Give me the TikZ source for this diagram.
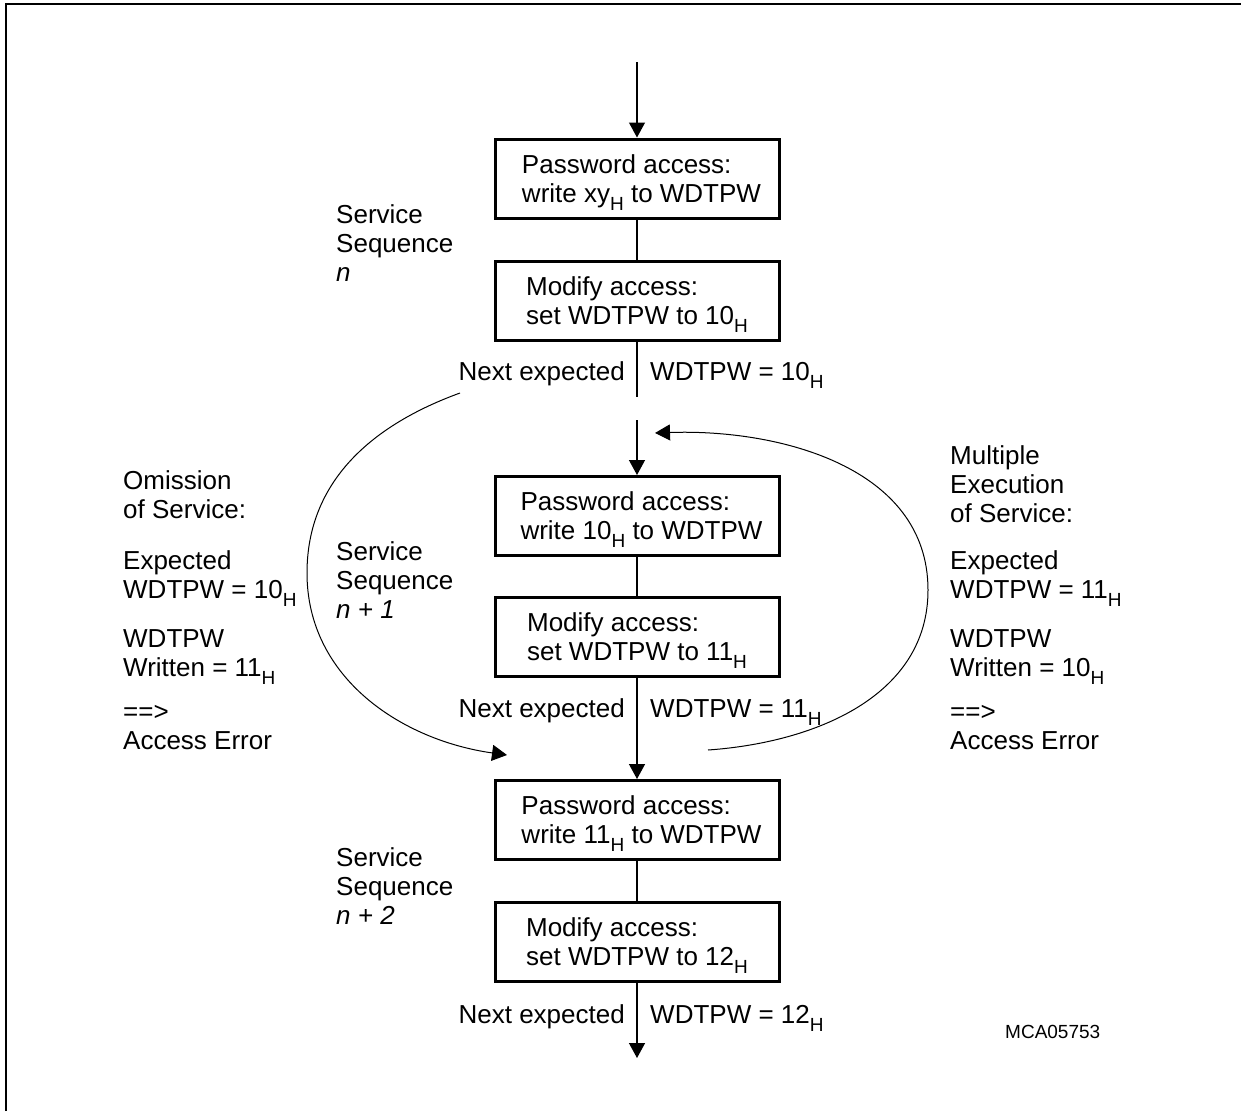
\documentclass[tikz,border=0pt]{standalone}
\usepackage{fontspec}
\setmainfont{Liberation Sans}
\usetikzlibrary{arrows.meta}
% lowered small "H" used for hexadecimal values
\newcommand{\subH}{\raisebox{-8pt}{\fontsize{19}{19}\selectfont H}}
% two-line box text with fixed line heights
\newcommand{\boxtext}[3]{\hspace*{#1}\rule{0pt}{27pt}#2\\\hspace*{#1}\smash{#3}\rule[-8.7pt]{0pt}{0pt}}
\begin{document}
\begin{tikzpicture}[x=1pt,y=1pt,
  every node/.style={font=\fontsize{26}{29}\selectfont},
  stepbox/.style={draw, line width=3pt, minimum width=284pt, minimum height=79pt,
    align=left, inner sep=0pt},
  lbl/.style={anchor=north west, inner sep=0pt, align=left},
  wire/.style={line width=1.3pt},
  flow/.style={line width=1.3pt, -{Triangle[length=15pt,width=16pt]}},
  loop/.style={line width=1pt, -{Triangle[length=15pt,width=16pt]}}]
\useasboundingbox (0,0) rectangle (1241,-1111);
% frame
\draw[line width=2.5pt] (6,-1111) |- (1241,-4);

% boxes
\node[stepbox] (b1) at (637,-178.5) {\boxtext{9pt}{Password access:}{write xy\subH{} to WDTPW}};
\node[stepbox] (b2) at (637,-301)   {\boxtext{0pt}{Modify access:}{set WDTPW to 10\subH}};
\node[stepbox] (b3) at (637,-516)   {\boxtext{9pt}{Password access:}{write 10\subH{} to WDTPW}};
\node[stepbox] (b4) at (637,-637)   {\boxtext{0pt}{Modify access:}{set WDTPW to 11\subH}};
\node[stepbox] (b5) at (637,-820)   {\boxtext{9pt}{Password access:}{write 11\subH{} to WDTPW}};
\node[stepbox] (b6) at (637,-942)   {\boxtext{0pt}{Modify access:}{set WDTPW to 12\subH}};

% free ends of the main flow
\coordinate (in) at (637,-62);
\coordinate (e1) at (637,-397);
\coordinate (s2) at (637,-420);
\coordinate (out) at (637,-1058);

\draw[flow] (in) -- (b1.north);
\draw[wire] (b1) -- (b2);
\draw[wire] (b2.south) -- (e1);
\draw[flow] (s2) -- (b3.north);
\draw[wire] (b3) -- (b4);
\draw[flow] (b4.south) -- (b5.north);
\draw[wire] (b5) -- (b6);
\draw[flow] (b6.south) -- (out);

% "next expected" labels
\node[anchor=base east, inner sep=0pt] (ne1) at (625,-380) {Next expected};
\node[anchor=base west, inner sep=0pt] (nv1) at (650,-380) {WDTPW = 10\subH};
\node[anchor=base east, inner sep=0pt] (ne2) at (625,-717) {Next expected};
\node[anchor=base west, inner sep=0pt] (nv2) at (650,-717) {WDTPW = 11\subH};
\node[anchor=base east, inner sep=0pt] (ne3) at (625,-1023) {Next expected};
\node[anchor=base west, inner sep=0pt] (nv3) at (650,-1023) {WDTPW = 12\subH};

% sequence labels
\node[lbl] (sq1) at (336,-203) {\strut Service\\Sequence\\\textit{n}};
\node[lbl] (sq2) at (336,-540) {\strut Service\\Sequence\\\textit{n + 1}};
\node[lbl] (sq3) at (336,-846) {\strut Service\\Sequence\\\textit{n + 2}};

% omission of service
\node[lbl] (om1) at (123,-469) {\strut Omission\\of Service:};
\node[lbl] (om2) at (123,-549) {\strut Expected\\WDTPW = 10\subH};
\node[lbl] (om3) at (123,-627) {\strut WDTPW\\Written = 11\subH};
\node[lbl] (om4) at (123,-700) {\strut ==>\\Access Error};

% multiple execution of service
\node[lbl] (me1) at (950,-444) {\strut Multiple\\Execution\\of Service:};
\node[lbl] (me2) at (950,-549) {\strut Expected\\WDTPW = 11\subH};
\node[lbl] (me3) at (950,-627) {\strut WDTPW\\Written = 10\subH};
\node[lbl] (me4) at (950,-700) {\strut ==>\\Access Error};

% loops
\coordinate (la) at (460,-393);
\coordinate (lm) at (307,-573);
\coordinate (lb) at (507,-755);
\draw[loop] (la) to[out=200,in=90] (lm) to[out=-90,in=172] (lb);

\coordinate (ra) at (708,-750);
\coordinate (rm) at (928,-590);
\coordinate (rb) at (655,-433);
\draw[loop] (ra) to[out=4,in=-90] (rm) to[out=90,in=2] (rb);

% figure id
\node[anchor=base west, inner sep=0pt, font=\fontsize{19}{21}\selectfont] (id) at (1005,-1038) {MCA05753};
\end{tikzpicture}
\end{document}
